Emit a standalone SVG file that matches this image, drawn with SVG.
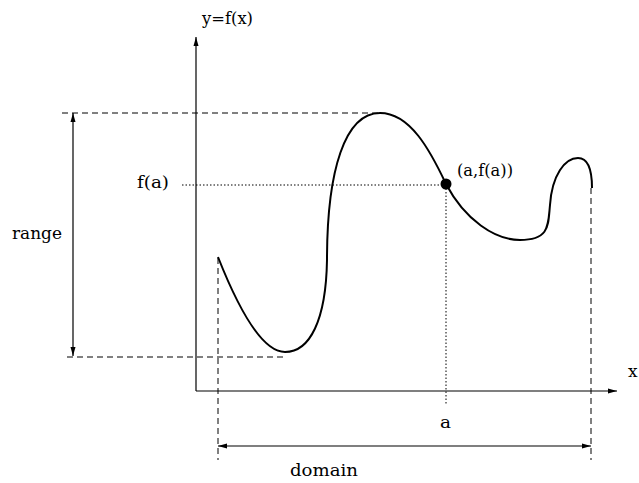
<svg xmlns="http://www.w3.org/2000/svg" width="639" height="483" viewBox="0 0 639 483">
<style>
.ln{stroke:#000;stroke-width:1.2;fill:none}
.ds{stroke:#000;stroke-width:1;fill:none;stroke-dasharray:6,4}
.dt{stroke:#000;stroke-width:1;fill:none;stroke-dasharray:1.5,2}
.cv{stroke:#000;stroke-width:2;fill:none}
text{font-family:"DejaVu Serif","Liberation Serif",serif;font-size:17px;fill:#000}
</style>
<defs>
<marker id="ah" markerWidth="10" markerHeight="6" refX="9" refY="3" orient="auto" markerUnits="userSpaceOnUse">
<path d="M0,0.5 L9,3 L0,5.5 Z" fill="#000"/>
</marker>
<marker id="as" markerWidth="10" markerHeight="6" refX="1" refY="3" orient="auto" markerUnits="userSpaceOnUse">
<path d="M10,0.5 L1,3 L10,5.5 Z" fill="#000"/>
</marker>
</defs>
<rect width="639" height="483" fill="#fff"/>
<g id="connectors">
<line class="ln" x1="196" y1="391" x2="196" y2="37" marker-end="url(#ah)"/>
<line class="ln" x1="196" y1="391" x2="617" y2="391" marker-end="url(#ah)"/>
<line class="ds" x1="62" y1="113" x2="380" y2="113"/>
<line class="ds" x1="67" y1="357" x2="287" y2="357"/>
<line class="ln" x1="73" y1="113" x2="73" y2="356" marker-start="url(#as)" marker-end="url(#ah)"/>
<line class="dt" x1="182" y1="185" x2="445" y2="185"/>
<line class="dt" x1="446" y1="185" x2="446" y2="405"/>
<line class="ds" x1="218" y1="258" x2="218" y2="460"/>
<line class="ds" x1="591" y1="188" x2="591" y2="460"/>
<line class="ln" x1="218" y1="446" x2="591" y2="446" marker-start="url(#as)" marker-end="url(#ah)"/>
</g>
<g id="curve">
<path class="cv" d="M218,257 C235,300 260,352 285,352 C310,352 326,320 327,260 C327,170 345,113 380,113 C410,113 430,150 446,184 C465,220 495,240 520,240 C550,240 548,225 550,205 C552,175 565,158 578,158 C590,158 592,175 592,188"/>
<circle cx="446" cy="184" r="5.5" fill="#000"/>
</g>
<g id="labels">
<text x="202" y="24" textLength="51" lengthAdjust="spacingAndGlyphs">y=f(x)</text>
<text x="628" y="377">x</text>
<text x="137" y="188" textLength="32" lengthAdjust="spacingAndGlyphs">f(a)</text>
<text x="12" y="239" textLength="50" lengthAdjust="spacingAndGlyphs">range</text>
<text x="457" y="176" textLength="56" lengthAdjust="spacingAndGlyphs">(a,f(a))</text>
<text x="440" y="428" textLength="11" lengthAdjust="spacingAndGlyphs">a</text>
<text x="290" y="476" textLength="68" lengthAdjust="spacingAndGlyphs">domain</text>
</g>
</svg>
